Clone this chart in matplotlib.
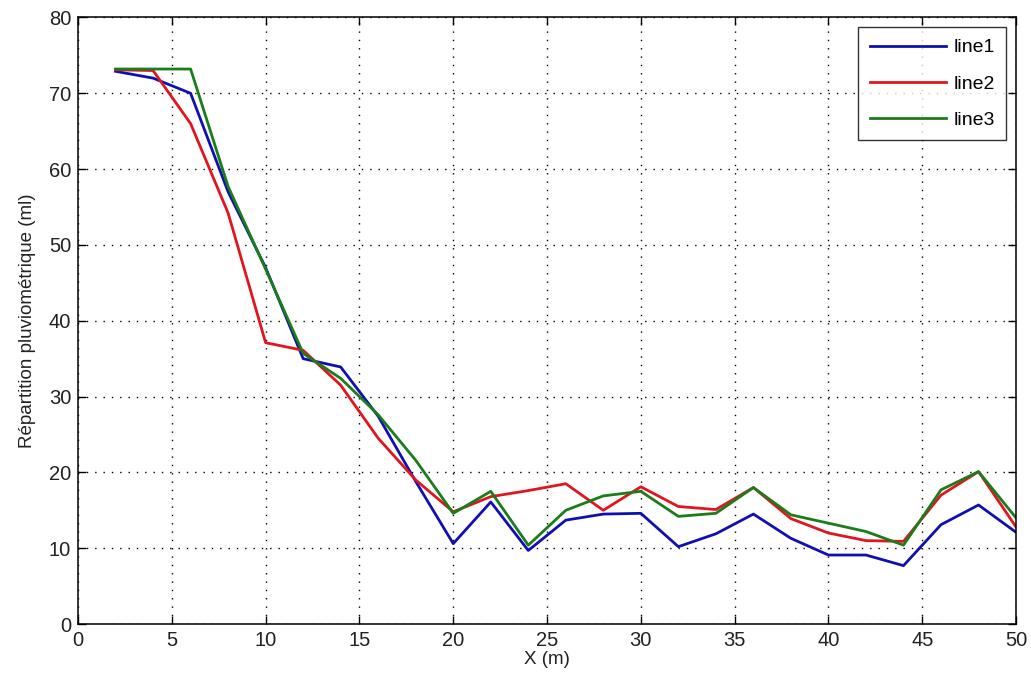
import matplotlib
matplotlib.use("Agg")
import matplotlib.pyplot as plt

plt.rcParams['font.family'] = ['Liberation Sans', 'DejaVu Sans']

x = [2, 4, 6, 8, 10, 12, 14, 16, 18, 20, 22, 24, 26, 28, 30, 32, 34, 36, 38, 40, 42, 44, 46, 48, 50]
line1 = [72.9, 72.0, 70.0, 57.0, 47.0, 35.0, 33.9, 27.4, 18.8, 10.6, 16.1, 9.7, 13.7, 14.5, 14.6, 10.2, 11.9, 14.5, 11.3, 9.1, 9.1, 7.7, 13.1, 15.7, 12.1]
line2 = [73.1, 73.0, 66.0, 54.2, 37.1, 36.1, 31.5, 24.5, 19.0, 14.8, 16.8, 17.6, 18.5, 15.0, 18.1, 15.5, 15.1, 18.0, 13.9, 12.0, 11.0, 10.9, 17.0, 20.1, 12.8]
line3 = [73.2, 73.2, 73.2, 57.7, 46.8, 35.7, 32.4, 27.6, 21.6, 14.6, 17.5, 10.4, 15.0, 16.9, 17.5, 14.2, 14.6, 18.0, 14.4, 13.3, 12.2, 10.4, 17.7, 20.1, 14.0]
labels = ['line1', 'line2', 'line3']
colors = ['#1010b0', '#e0151f', '#1a7d1a']

fig = plt.figure(figsize=(10.31, 6.88), dpi=100)
ax = fig.add_axes([0.0757, 0.093, 0.9098, 0.8816])

for y, lab, c in zip([line1, line2, line3], labels, colors):
    ax.plot(x, y, color=c, linewidth=2.0, label=lab)

ax.set_xlim(0, 50)
ax.set_ylim(0, 80)
ax.set_xticks(range(0, 51, 5))
ax.set_yticks(range(0, 81, 10))
ax.grid(True, color='black', linestyle=(0, (1, 5)), linewidth=1.0)
ax.tick_params(direction='in', top=True, right=True, length=6, width=1,
               labelsize=14.5, pad=5, labelcolor='#222222')
for s in ax.spines.values():
    s.set_linewidth(1.1)
ax.set_xlabel('X (m)', fontsize=13.5, labelpad=1, color='#222222')
ax.set_ylabel('Répartition pluviométrique (ml)', fontsize=13.5, labelpad=9, color='#222222')

leg = ax.legend(loc='upper right', fontsize=14, frameon=True, fancybox=False,
                edgecolor='black', handlelength=3.9, borderaxespad=0.5,
                labelspacing=0.95, handletextpad=0.4, borderpad=0.6)
leg.get_frame().set_linewidth(1.0)

fig.savefig('out.png', dpi=100)
